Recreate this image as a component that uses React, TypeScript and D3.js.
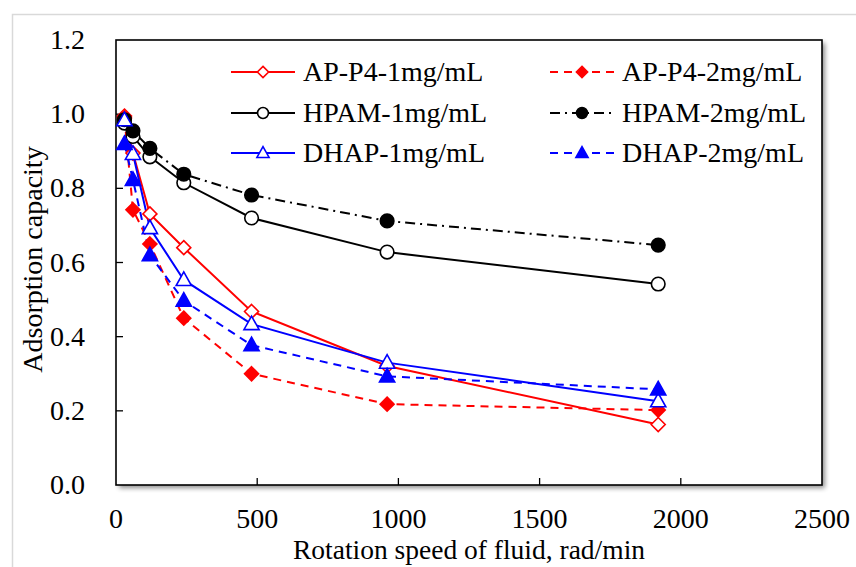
import React from "react";
import * as d3 from "d3";

const speeds = [30, 60, 120, 240, 480, 960, 1920];
const apP4_1 = [0.995, 0.895, 0.731, 0.64, 0.468, 0.321, 0.163];
const apP4_2 = [0.99, 0.742, 0.65, 0.45, 0.30, 0.218, 0.202];
const hpam_1 = [0.976, 0.94, 0.885, 0.815, 0.72, 0.628, 0.542];
const hpam_2 = [0.985, 0.955, 0.908, 0.838, 0.782, 0.712, 0.647];
const dhap_1 = [0.984, 0.893, 0.693, 0.553, 0.434, 0.33, 0.226];
const dhap_2 = [0.92, 0.823, 0.62, 0.497, 0.377, 0.293, 0.258];

const xTicks = [0, 500, 1000, 1500, 2000, 2500];
const yTicks = [0, 0.2, 0.4, 0.6, 0.8, 1.0, 1.2];

type Series = {
  name: string;
  values: number[];
  color: string;
  dash: string | null;
  marker: "diamond" | "circle" | "triangle";
  filled: boolean;
};

const series: Series[] = [
  { name: "AP-P4-1mg/mL", values: apP4_1, color: "#ff0000", dash: null, marker: "diamond", filled: false },
  { name: "AP-P4-2mg/mL", values: apP4_2, color: "#ff0000", dash: "8,6", marker: "diamond", filled: true },
  { name: "HPAM-1mg/mL", values: hpam_1, color: "#000000", dash: null, marker: "circle", filled: false },
  { name: "HPAM-2mg/mL", values: hpam_2, color: "#000000", dash: "10,5,2,5", marker: "circle", filled: true },
  { name: "DHAP-1mg/mL", values: dhap_1, color: "#0000ff", dash: null, marker: "triangle", filled: false },
  { name: "DHAP-2mg/mL", values: dhap_2, color: "#0000ff", dash: "8,6", marker: "triangle", filled: true },
];

const W = 856;
const H = 567;
const L = 116, R = 822, T = 40, B = 485;
const FONT = "Liberation Serif";
const FS = 28;

function Marker({ s, x, y, scale = 1 }: { s: Series; x: number; y: number; scale?: number }) {
  const fill = s.filled ? s.color : "#fff";
  if (s.marker === "circle") {
    return <circle cx={x} cy={y} r={6.8 * scale} fill={fill} stroke={s.color} strokeWidth={1.6} />;
  }
  if (s.marker === "diamond") {
    const r = 7 * scale;
    const p = d3.path();
    p.moveTo(x, y - r); p.lineTo(x + r, y); p.lineTo(x, y + r); p.lineTo(x - r, y); p.closePath();
    return <path d={p.toString()} fill={fill} stroke={s.color} strokeWidth={1.6} />;
  }
  const r = 8 * scale;
  const p = d3.path();
  p.moveTo(x, y - r); p.lineTo(x + r * 0.95, y + r * 0.7); p.lineTo(x - r * 0.95, y + r * 0.7); p.closePath();
  return <path d={p.toString()} fill={fill} stroke={s.color} strokeWidth={1.6} />;
}

export default function App() {
  const x = d3.scaleLinear().domain([0, 2500]).range([L, R]);
  const y = d3.scaleLinear().domain([0, 1.2]).range([B, T]);
  const line = d3.line<number>().x((_, i) => x(speeds[i])).y((v) => y(v));

  React.useEffect(() => {
    document.body.style.margin = "0";
  }, []);

  const legendCols = [231, 550];
  const legendRows = [72, 113, 153];

  return (
    <svg width={W} height={H} style={{ display: "block" }} fontFamily={FONT}>
      <defs>
        <filter id="sh" x="-5%" y="-5%" width="115%" height="115%">
          <feGaussianBlur in="SourceAlpha" stdDeviation="2.5" />
          <feOffset dx="3" dy="3" result="b" />
          <feComponentTransfer><feFuncA type="linear" slope="0.45" /></feComponentTransfer>
        </filter>
      </defs>
      <rect x={0} y={0} width={W} height={H} fill="#fff" />
      <rect x={12.5} y={14.5} width={W + 20} height={H + 20} fill="none" stroke="#d9d9d9" strokeWidth={1.5} />
      <rect x={L} y={T} width={R - L} height={B - T} fill="#000" filter="url(#sh)" />
      <rect x={L} y={T} width={R - L} height={B - T} fill="#fff" stroke="#000" strokeWidth={1.6} />

      {xTicks.slice(1, -1).map((t) => (
        <line key={"xt" + t} x1={x(t)} x2={x(t)} y1={B} y2={B - 7} stroke="#000" strokeWidth={1.3} />
      ))}
      {yTicks.slice(1, -1).map((t) => (
        <line key={"yt" + t} x1={L} x2={L + 7} y1={y(t)} y2={y(t)} stroke="#000" strokeWidth={1.3} />
      ))}

      {xTicks.map((t) => (
        <text key={"xl" + t} x={x(t)} y={528} fontSize={FS} fontFamily={FONT} textAnchor="middle">{t}</text>
      ))}
      {yTicks.map((t) => (
        <text key={"yl" + t} x={85} y={y(t) + 9} fontSize={FS} fontFamily={FONT} textAnchor="end">{t.toFixed(1)}</text>
      ))}

      <text x={(L + R) / 2} y={559} fontSize={FS - 0.5} fontFamily={FONT} textAnchor="middle">Rotation speed of fluid, rad/min</text>
      <text transform={`translate(42,${(T + B) / 2 - 3}) rotate(-90)`} fontSize={FS} fontFamily={FONT} textAnchor="middle">Adsorption capacity</text>

      {series.map((s) => (
        <path key={"l" + s.name} d={line(s.values) || ""} fill="none" stroke={s.color} strokeWidth={2}
          strokeDasharray={s.dash || undefined} />
      ))}
      {series.map((s) => (
        <g key={"m" + s.name}>
          {s.values.map((v, i) => (
            <Marker key={i} s={s} x={x(speeds[i])} y={y(v)} />
          ))}
        </g>
      ))}

      {series.map((s, i) => {
        const cx = legendCols[i % 2];
        const cy = legendRows[Math.floor(i / 2)];
        return (
          <g key={"lg" + s.name}>
            <line x1={cx} x2={cx + 64} y1={cy} y2={cy} stroke={s.color} strokeWidth={2}
              strokeDasharray={s.dash || undefined} />
            <Marker s={s} x={cx + 32} y={cy} scale={0.8} />
            <text x={cx + 72} y={cy + 9} fontSize={FS} fontFamily={FONT}>{s.name}</text>
          </g>
        );
      })}
    </svg>
  );
}
